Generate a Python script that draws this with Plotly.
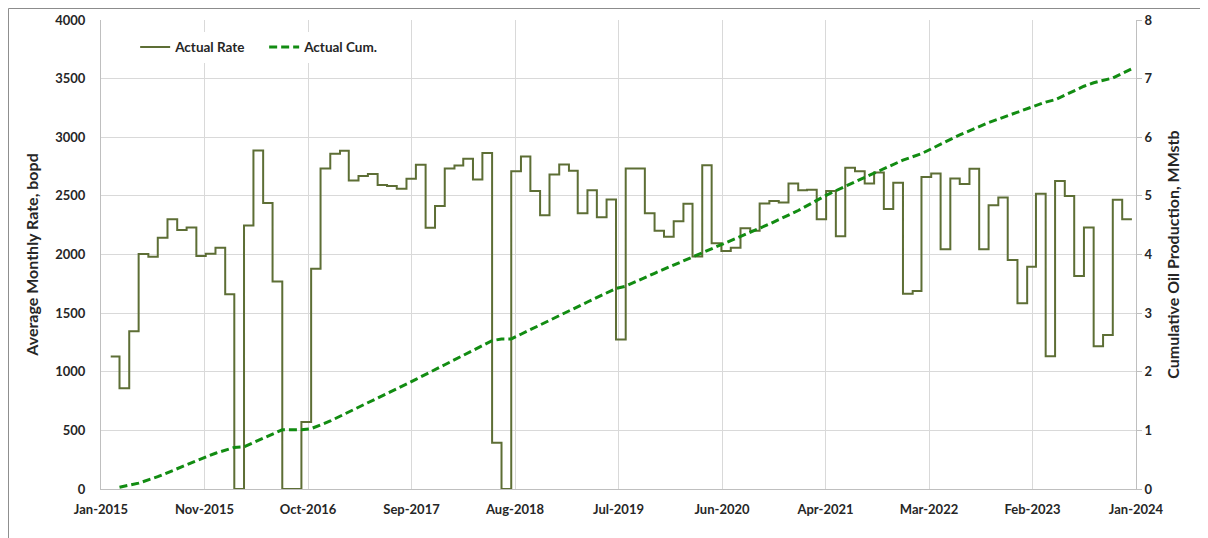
import pandas as pd
import plotly.graph_objects as go

# monthly average oil rate (bopd), Feb-2015 .. Dec-2023
rate_start = "2015-02-01"
rate_bopd = [
    1130, 860, 1345, 2005, 1980, 2143, 2300, 2209, 2231, 1987, 2007, 2058,
    1661, 0, 2248, 2887, 2439, 1769, 0, 0, 571, 1879, 2734, 2859,
    2884, 2632, 2669, 2686, 2592, 2584, 2561, 2646, 2765, 2229, 2413, 2734,
    2760, 2816, 2640, 2865, 395, 0, 2711, 2836, 2541, 2334, 2683, 2768,
    2714, 2351, 2547, 2317, 2470, 1275, 2734, 2734, 2351, 2203, 2152, 2283,
    2433, 1984, 2762, 2095, 2030, 2058, 2223, 2203, 2436, 2456, 2444, 2606,
    2547, 2552, 2300, 2541, 2155, 2740, 2711, 2606, 2700, 2388, 2612, 1666,
    1689, 2660, 2691, 2044, 2649, 2601, 2731, 2044, 2419, 2487, 1953, 1584,
    1896, 2518, 1133, 2626, 2498, 1817, 2231, 1218, 1314, 2467, 2300,
]

# cumulative oil (MMstb)
cum_dates = [
    "2015-03-01", "2015-05-01", "2015-07-01", "2015-09-01", "2015-11-01",
    "2016-01-01", "2016-03-01", "2016-04-01", "2016-05-01", "2016-07-01",
    "2016-08-01", "2016-10-01", "2016-11-01", "2017-01-01", "2017-04-01",
    "2017-07-01", "2017-10-01", "2018-01-01", "2018-04-01", "2018-06-01",
    "2018-07-01", "2018-08-01", "2018-09-01", "2019-01-01", "2019-04-01",
    "2019-07-01", "2019-08-01", "2019-11-01", "2020-02-01", "2020-05-01",
    "2020-08-01", "2020-11-01", "2021-02-01", "2021-05-01", "2021-08-01",
    "2021-11-01", "2022-01-01", "2022-03-01", "2022-04-01", "2022-07-01",
    "2022-10-01", "2023-01-01", "2023-03-01", "2023-04-01", "2023-05-01",
    "2023-08-01", "2023-09-01", "2023-10-01", "2023-11-01", "2023-12-01",
    "2024-01-01",
]
cum_mmstb = [
    0.03, 0.10, 0.21, 0.35, 0.48,
    0.61, 0.71, 0.72, 0.79, 0.94,
    1.01, 1.01, 1.03, 1.16, 1.39,
    1.63, 1.87, 2.12, 2.37, 2.53,
    2.56, 2.56, 2.64, 2.96, 3.19,
    3.42, 3.46, 3.68, 3.89, 4.10,
    4.31, 4.52, 4.75, 5.01, 5.24,
    5.47, 5.61, 5.72, 5.80, 6.04,
    6.25, 6.43, 6.54, 6.60, 6.64,
    6.87, 6.93, 6.97, 7.01, 7.09,
    7.17,
]

RATE_COLOR = "#5d6e35"
CUM_COLOR = "#128c12"
GRID = "#d9d9d9"
INK = "#262626"
FONT = "Lato"

# step edges: each month drawn from its first day to the next month's first day
step_x = pd.date_range(rate_start, periods=len(rate_bopd) + 1, freq="MS")
step_y = rate_bopd + [rate_bopd[-1]]

fig = go.Figure()
fig.add_trace(
    go.Scatter(
        x=step_x,
        y=step_y,
        mode="lines",
        line={"color": RATE_COLOR, "width": 2, "shape": "hv"},
        name="Actual Rate",
    )
)
fig.add_trace(
    go.Scatter(
        x=pd.to_datetime(cum_dates),
        y=cum_mmstb,
        mode="lines",
        line={"color": CUM_COLOR, "width": 3, "dash": "8px,4px"},
        name="Actual Cum.",
        yaxis="y2",
    )
)

bold = {"family": FONT, "size": 13, "color": INK, "weight": "bold"}
title_font = {**bold, "size": 16}
# page body adds an 8px margin, so the figure is 1200x530 inside it
fig.update_layout(
    width=1200,
    height=530,
    paper_bgcolor="white",
    plot_bgcolor="white",
    margin={"l": 93, "r": 72, "t": 12, "b": 49, "autoexpand": False},
    font=bold,
    showlegend=True,
    legend={
        "orientation": "h",
        "x": 0.033,
        "y": 0.942,
        "xanchor": "left",
        "yanchor": "middle",
        "bgcolor": "white",
        "itemwidth": 30,
        "entrywidth": 84,
        "font": {**bold, "size": 13.5},
        "tracegroupgap": 0,
    },
    xaxis={
        "type": "date",
        "range": ["2015-01-01", "2024-01-14"],
        "tick0": "2015-01-01",
        "dtick": 330 * 86400000,
        "tickformat": "%b-%Y",
        "showgrid": True,
        "gridcolor": GRID,
        "showline": True,
        "linecolor": "#bfbfbf",
        "linewidth": 1,
        "ticks": "",
        "ticklabelstandoff": 8,
        "zeroline": False,
        "automargin": False,
        "tickfont": bold,
    },
    yaxis={
        "range": [0, 4000],
        "dtick": 500,
        "showgrid": True,
        "gridcolor": GRID,
        "showline": True,
        "linecolor": "#bfbfbf",
        "ticks": "",
        "ticklabelstandoff": 12,
        "zeroline": False,
        "automargin": False,
        "tickfont": bold,
        "title": {"text": "Average Monthly Rate, bopd", "font": title_font, "standoff": 12},
    },
    yaxis2={
        "range": [0, 8],
        "dtick": 1,
        "overlaying": "y",
        "side": "right",
        "showgrid": False,
        "showline": True,
        "linecolor": "#bfbfbf",
        "ticks": "outside",
        "ticklen": 5,
        "tickcolor": "#bfbfbf",
        "zeroline": False,
        "automargin": False,
        "tickfont": bold,
        "title": {"text": "Cumulative Oil Production, MMstb", "font": title_font, "standoff": 16},
    },
    shapes=[
        # outer chart frame: only its top and left edges fall inside the view
        {
            "type": "rect",
            "xref": "paper",
            "yref": "paper",
            "x0": -0.0894,
            "x1": 1.09,
            "y0": -0.14,
            "y1": 1.0245,
            "line": {"color": "#8c8c8c", "width": 1},
            "fillcolor": "rgba(0,0,0,0)",
            "layer": "above",
        }
    ],
)

fig.write_html("out.html")
